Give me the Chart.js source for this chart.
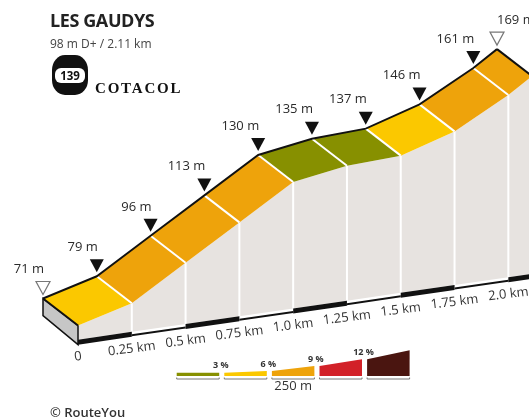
<!DOCTYPE html>
<html>
<head>
<meta charset="utf-8">
<script src="https://cdn.jsdelivr.net/npm/chart.js@4.4.0/dist/chart.umd.min.js"></script>
<style>
  html, body { margin: 0; padding: 0; background: #fff; }
  #wrap { position: relative; width: 529px; height: 417px; overflow: hidden; font-family: 'Open Sans', sans-serif; color: #222; }
  #chart-box { position: absolute; left: 0; top: 0; width: 529px; height: 417px; }
  .title { position: absolute; left: 50px; top: 11px; font-size: 18px; line-height: 18px; font-weight: 700; letter-spacing: -0.4px; white-space: nowrap; }
  .sub { position: absolute; left: 50px; top: 37.5px; font-size: 12px; line-height: 12px; color: #444; white-space: nowrap; }
  .logo { position: absolute; left: 52px; top: 55px; width: 36px; height: 40px; background: #111; border-radius: 13px / 15px; }
  .logo span { position: absolute; left: 3px; top: 12.5px; width: 30px; height: 15px; background: #fff; border-radius: 6px; font-size: 11.5px; line-height: 15px; font-weight: 700; text-align: center; color: #111; }
  .brand { position: absolute; left: 95px; top: 80.5px; font-family: 'Liberation Serif', serif; font-size: 15px; line-height: 15px; font-weight: 700; letter-spacing: 1.8px; color: #111; white-space: nowrap; }
  .credit { position: absolute; left: 50px; top: 405.5px; font-size: 13px; line-height: 13px; font-weight: 600; color: #333; white-space: nowrap; }
</style>
</head>
<body>
<div id="wrap">
  <div id="chart-box"><canvas id="profile"></canvas></div>
  <div class="title">LES GAUDYS</div>
  <div class="sub">98 m D+ / 2.11 km</div>
  <div class="logo"><span>139</span></div>
  <div class="brand">COTACOL</div>
  <div class="credit">© RouteYou</div>
</div>
<script>
// climb profile
const distKm = [0, 0.25, 0.5, 0.75, 1.0, 1.25, 1.5, 1.75, 2.0, 2.11];
const elevM = [71, 79, 96, 113, 130, 135, 137, 146, 161, 169];

// axis ticks along the front edge
const tickKm = [0, 0.25, 0.5, 0.75, 1.0, 1.25, 1.5, 1.75, 2.0];
const tickLabels = ['0', '0.25 km', '0.5 km', '0.75 km', '1.0 km', '1.25 km', '1.5 km', '1.75 km', '2.0 km'];

// gradient classes (percent) and legend
const gradeSteps = [3, 6, 9, 12];
const gradeColors = ['#879000', '#fbc800', '#eea30b', '#d22128', '#4a1510'];
const legendScaleLabel = '250 m';

// drawing style
const SKEW = 0.1126;        // ground tilt, px up per px right
const DEPTH_X = 35;         // offset from back edge to front edge
const DEPTH_Y = 27;
const BASE_ELEV = 64;       // bottom of the block
const BASE_TILT = 7;        // extra rise of the bottom edge, px per km
const FACE_COLOR = '#e7e3e0';
const SIDE_COLOR = '#c6c6c6';

function gradeColor(g) {
    let idx = 0;
    gradeSteps.forEach(step => { if (g >= step) idx++; });
    return gradeColors[idx];
}

function backPt(chart, d, h) {
    const xs = chart.scales.x, ys = chart.scales.y;
    const px = xs.getPixelForValue(d);
    return { x: px, y: ys.getPixelForValue(h) - SKEW * (px - xs.left) };
}

function frontPt(chart, d, h) {
    const p = backPt(chart, d, h);
    return { x: p.x + DEPTH_X, y: p.y + DEPTH_Y };
}

function basePt(chart, d) {
    const p = frontPt(chart, d, BASE_ELEV);
    p.y -= BASE_TILT * d;
    return p;
}

function poly(ctx, pts) {
    ctx.beginPath();
    pts.forEach((p, i) => i ? ctx.lineTo(p.x, p.y) : ctx.moveTo(p.x, p.y));
    ctx.closePath();
}

const blockPlugin = {
    id: 'block',
    beforeDatasetsDraw(chart) {
        const ctx = chart.ctx;
        const n = distKm.length;
        ctx.save();

        // front face
        const top = distKm.map((d, i) => frontPt(chart, d, elevM[i]));
        const bottom = distKm.map(d => basePt(chart, d));
        poly(ctx, top.concat(bottom.slice().reverse()));
        ctx.fillStyle = FACE_COLOR;
        ctx.fill();

        // white separators on the front face
        ctx.strokeStyle = '#fff';
        ctx.lineWidth = 2;
        for (let i = 1; i < n - 1; i++) {
            ctx.beginPath();
            ctx.moveTo(top[i].x, top[i].y);
            ctx.lineTo(bottom[i].x, bottom[i].y);
            ctx.stroke();
        }

        // bottom edge, scale-bar style
        for (let i = 0; i < n - 1; i++) {
            const a = bottom[i], b = bottom[i + 1];
            const thick = i % 2 === 0;
            poly(ctx, thick
                ? [a, b, { x: b.x, y: b.y + 5 }, { x: a.x, y: a.y + 5 }]
                : [{ x: a.x, y: a.y + 2.5 }, { x: b.x, y: b.y + 2.5 }, { x: b.x, y: b.y + 4.5 }, { x: a.x, y: a.y + 4.5 }]);
            ctx.fillStyle = '#111';
            ctx.fill();
        }

        // left end face
        const b0 = backPt(chart, 0, elevM[0]);
        const bb0 = backPt(chart, 0, BASE_ELEV);
        poly(ctx, [b0, top[0], { x: bottom[0].x, y: bottom[0].y + 5 }, { x: bb0.x, y: bb0.y + 3 }]);
        ctx.fillStyle = SIDE_COLOR;
        ctx.fill();
        ctx.strokeStyle = '#111';
        ctx.lineWidth = 1.5;
        ctx.stroke();

        // road surface coloured by gradient
        const back = distKm.map((d, i) => backPt(chart, d, elevM[i]));
        for (let i = 0; i < n - 1; i++) {
            const g = (elevM[i + 1] - elevM[i]) / ((distKm[i + 1] - distKm[i]) * 1000) * 100;
            poly(ctx, [back[i], back[i + 1], top[i + 1], top[i]]);
            ctx.fillStyle = gradeColor(g);
            ctx.fill();
        }
        ctx.strokeStyle = '#fff';
        ctx.lineWidth = 2;
        for (let i = 1; i < n - 1; i++) {
            ctx.beginPath();
            ctx.moveTo(back[i].x, back[i].y);
            ctx.lineTo(top[i].x, top[i].y);
            ctx.stroke();
        }

        // end edges of the road
        ctx.strokeStyle = '#111';
        ctx.lineWidth = 2;
        [0, n - 1].forEach(i => {
            ctx.beginPath();
            ctx.moveTo(back[i].x, back[i].y);
            ctx.lineTo(top[i].x, top[i].y);
            ctx.stroke();
        });
        ctx.restore();
    },
    beforeDatasetDraw(chart) {
        const ctx = chart.ctx;
        ctx.save();
        ctx.transform(1, -SKEW, 0, 1, 0, SKEW * chart.scales.x.left);
    },
    afterDatasetDraw(chart) {
        chart.ctx.restore();
    },
    afterDatasetsDraw(chart) {
        const ctx = chart.ctx;
        const n = distKm.length;
        ctx.save();

        // markers and elevation labels
        ctx.font = '13px "Open Sans"';
        ctx.textBaseline = 'middle';
        distKm.forEach((d, i) => {
            const p = backPt(chart, d, elevM[i]);
            const hollow = i === 0 || i === n - 1;
            ctx.beginPath();
            ctx.moveTo(p.x - 7, p.y - 17);
            ctx.lineTo(p.x + 7, p.y - 17);
            ctx.lineTo(p.x, p.y - 4);
            ctx.closePath();
            if (hollow) {
                ctx.fillStyle = '#fff';
                ctx.fill();
                ctx.strokeStyle = '#777';
                ctx.lineWidth = 1.2;
                ctx.stroke();
            } else {
                ctx.fillStyle = '#111';
                ctx.fill();
            }
            ctx.fillStyle = '#2a2a2a';
            const last = i === n - 1;
            ctx.textAlign = last ? 'left' : 'right';
            ctx.fillText(elevM[i] + ' m', last ? p.x : p.x + 1, p.y - 29);
        });

        // distance labels along the bottom edge
        ctx.fillStyle = '#333';
        ctx.textAlign = 'center';
        tickKm.forEach((d, i) => {
            const b = basePt(chart, d);
            ctx.save();
            ctx.translate(b.x, b.y + 17);
            ctx.rotate(-Math.atan(0.12));
            ctx.fillText(tickLabels[i], 0, 0);
            ctx.restore();
        });

        // gradient legend
        const lx = 176.7, pitch = 47.6, w = 42.5, lb = 376;
        const bounds = [0].concat(gradeSteps, [15]);
        const wedge = g => Math.max(3.3, 1 + 0.11 * g * g);
        for (let i = 0; i < gradeColors.length; i++) {
            const x = lx + i * pitch;
            poly(ctx, [{ x: x, y: lb }, { x: x + w, y: lb }, { x: x + w, y: lb - wedge(bounds[i + 1]) }, { x: x, y: lb - wedge(bounds[i]) }]);
            ctx.fillStyle = gradeColors[i];
            ctx.fill();
            ctx.beginPath();
            ctx.moveTo(x, lb + 1.5);
            ctx.lineTo(x, lb + 3);
            ctx.lineTo(x + w, lb + 3);
            ctx.lineTo(x + w, lb + 1.5);
            ctx.strokeStyle = '#777';
            ctx.lineWidth = 1;
            ctx.stroke();
        }
        ctx.font = 'bold 9px "Open Sans"';
        ctx.fillStyle = '#333';
        gradeSteps.forEach((g, i) => {
            const x = lx + i * pitch + w;
            ctx.fillText(g + ' %', x + 1.5, lb - wedge(g) - 7);
        });
        ctx.font = '13px "Open Sans"';
        ctx.fillText(legendScaleLabel, lx + 2 * pitch + w / 2, 386);
        ctx.restore();
    }
};

new Chart(document.getElementById('profile'), {
    type: 'line',
    data: {
        datasets: [{
            data: distKm.map((d, i) => ({ x: d, y: elevM[i] })),
            borderColor: '#111',
            borderWidth: 2,
            pointRadius: 0,
            fill: false,
            clip: false,
            tension: 0
        }]
    },
    options: {
        responsive: true,
        maintainAspectRatio: false,
        animation: false,
        layout: { padding: { left: 43, right: 32, top: 78, bottom: 76 } },
        scales: {
            x: { type: 'linear', min: 0, max: 2.11, display: false },
            y: { type: 'linear', min: 50, max: 180, display: false }
        },
        plugins: {
            legend: { display: false },
            tooltip: { enabled: false }
        }
    },
    plugins: [blockPlugin]
});
</script>
</body>
</html>
